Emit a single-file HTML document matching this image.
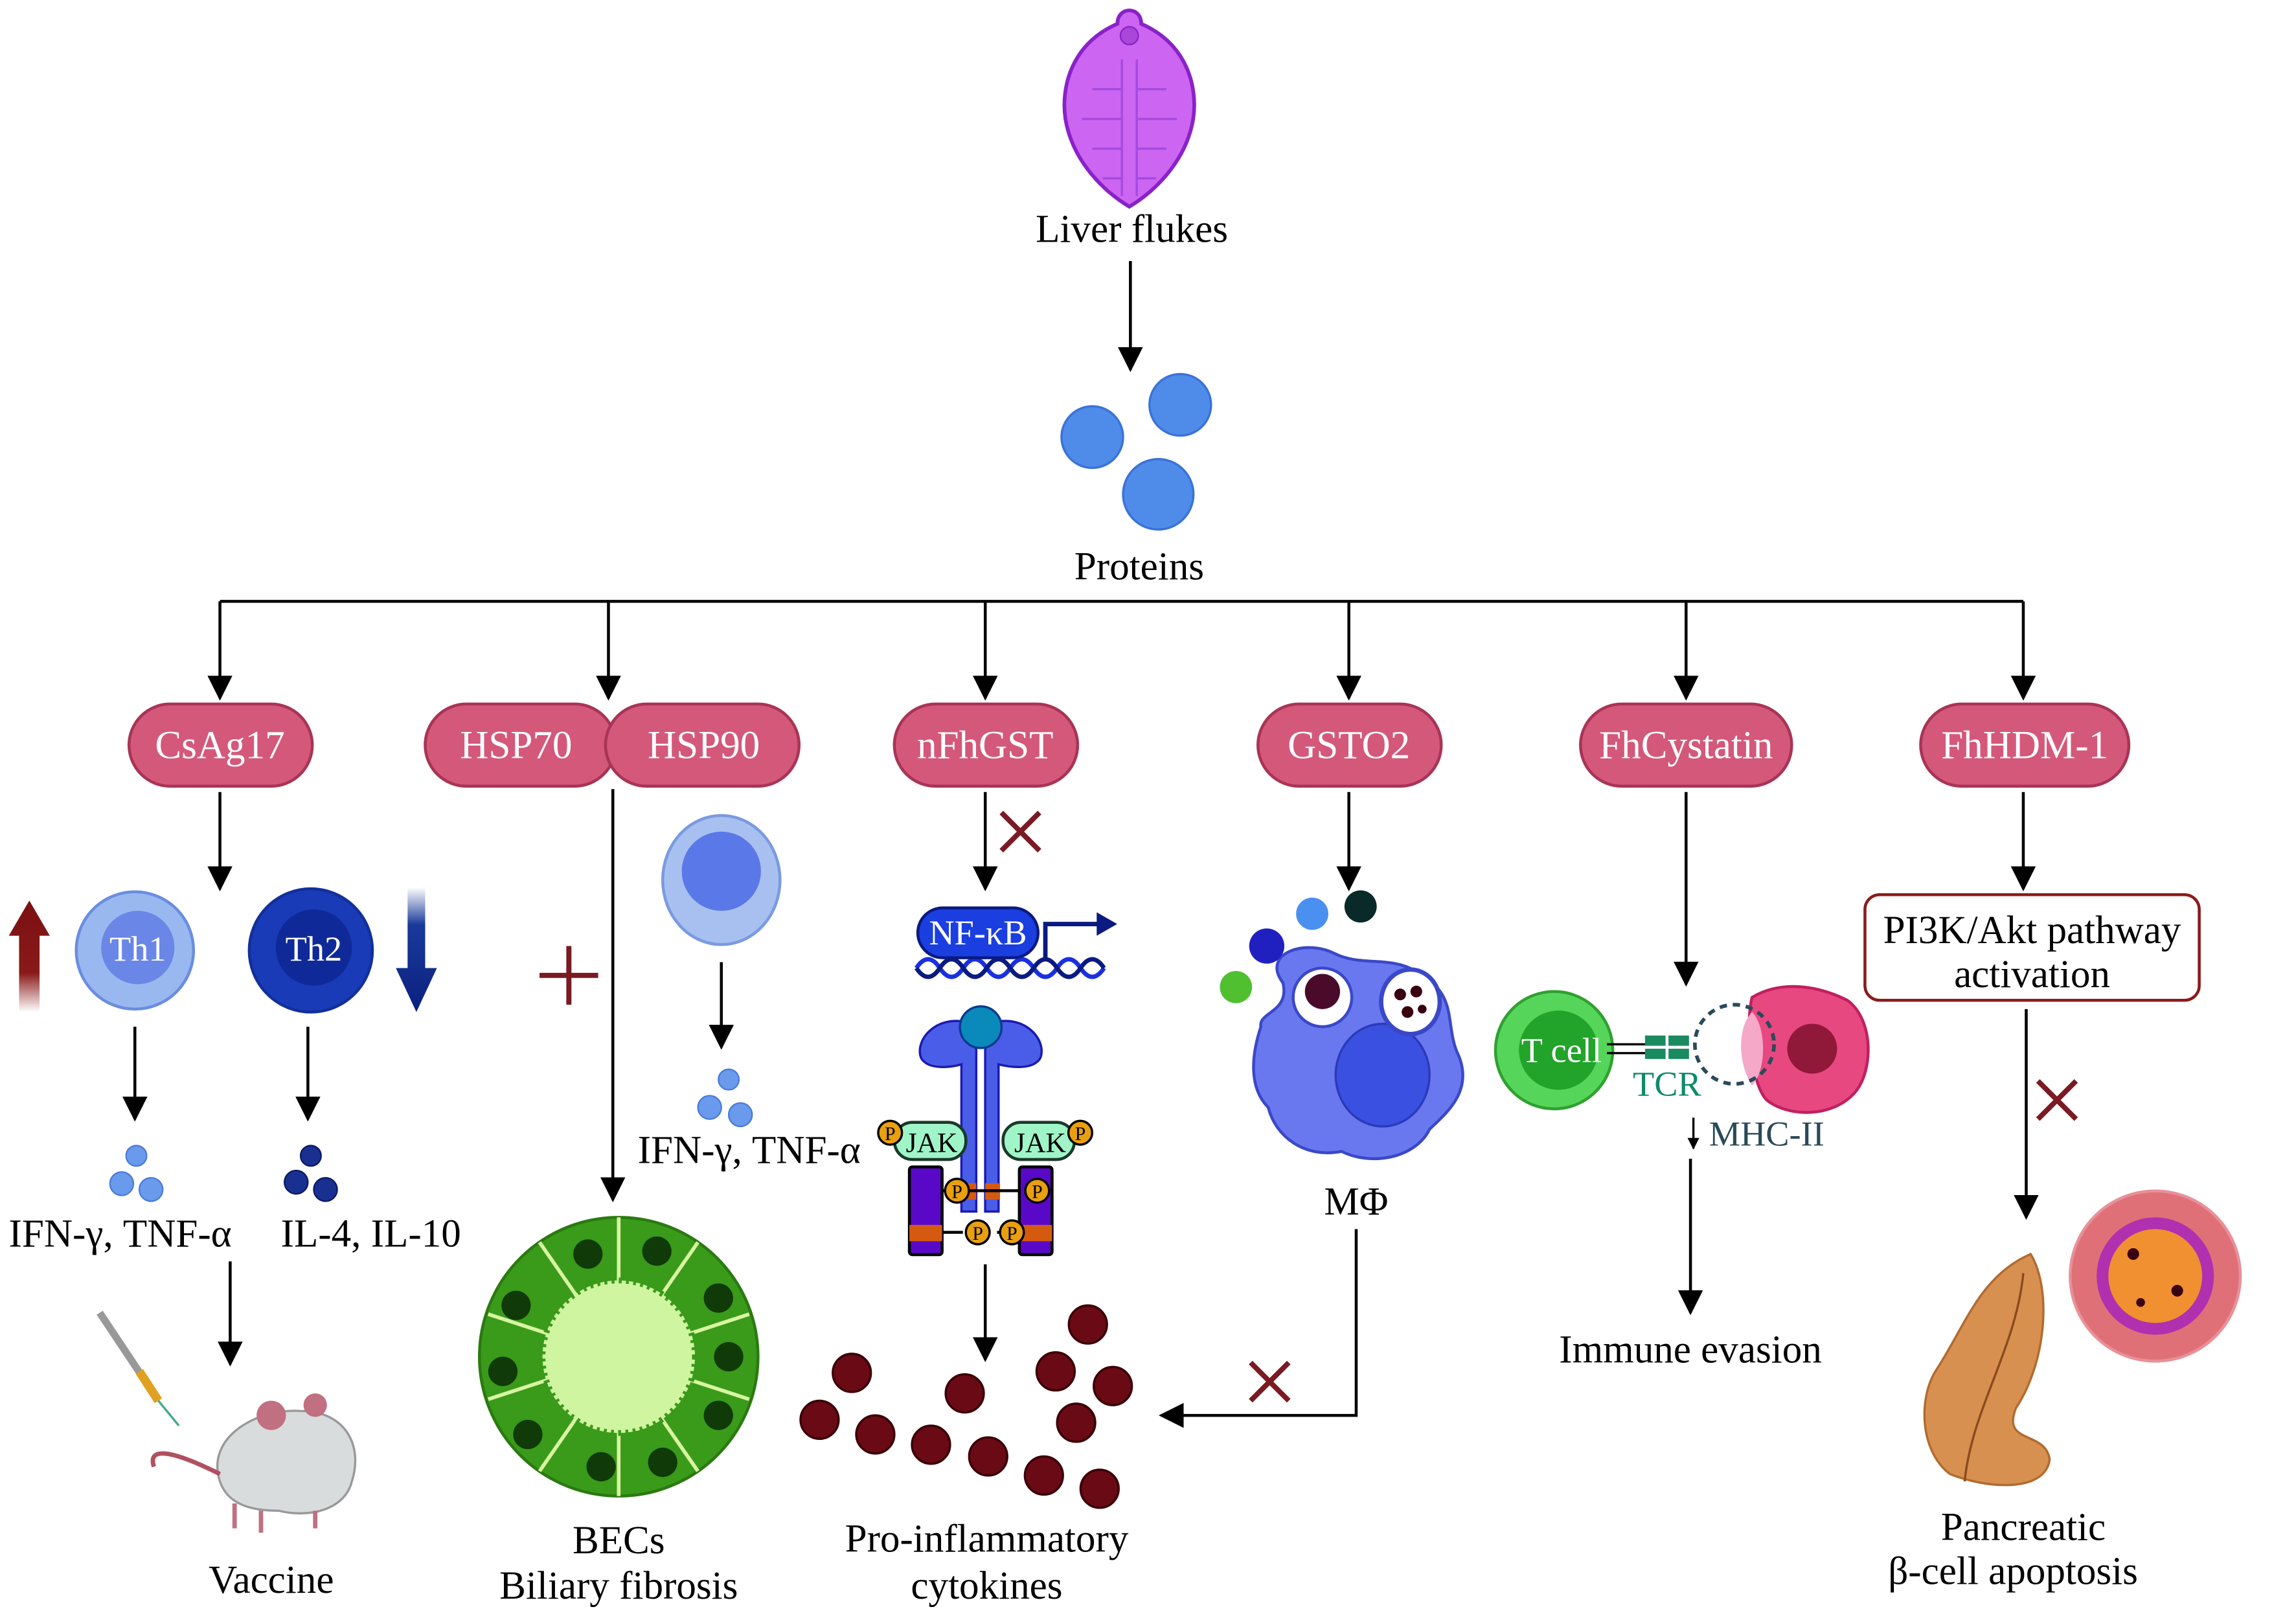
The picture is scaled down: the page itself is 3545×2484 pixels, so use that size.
<!DOCTYPE html>
<html><head><meta charset="utf-8"><style>html,body{margin:0;padding:0;background:#fff}svg{display:block}</style></head><body>
<svg width="3545" height="2484" viewBox="0 0 1566 1097" preserveAspectRatio="none" xmlns="http://www.w3.org/2000/svg" font-family="'Liberation Serif',serif" font-size="27">
<defs>
<marker id="a" viewBox="0 0 10 10" refX="9" refY="5" markerWidth="8" markerHeight="8" markerUnits="userSpaceOnUse" orient="auto"><path d="M0,0L10,5L0,10z" fill="#000"/></marker>
<marker id="b" viewBox="0 0 10 10" refX="9" refY="5" markerWidth="17" markerHeight="17" markerUnits="userSpaceOnUse" orient="auto"><path d="M0,0L10,5L0,10z" fill="#000"/></marker>
<linearGradient id="ru" x1="0" y1="1" x2="0" y2="0"><stop offset="0" stop-color="#fff"/><stop offset=".35" stop-color="#8a1a1a"/><stop offset="1" stop-color="#7a1010"/></linearGradient>
<linearGradient id="bd" x1="0" y1="0" x2="0" y2="1"><stop offset="0" stop-color="#fff"/><stop offset=".3" stop-color="#1a3a9a"/><stop offset="1" stop-color="#0a2080"/></linearGradient>
</defs>
<g transform="scale(1.0135)">
<path d="M752,16 C752,4 768,4 768,16 C800,30 806,60 803,80 C798,110 775,130 760,139 C745,130 722,110 717,80 C714,60 720,30 752,16z" fill="#cc66f2" stroke="#8a22c8" stroke-width="2.5"/>
<path d="M755,40 V132 M765,40 V132 M755,60 H735 M755,80 H728 M755,100 H735 M765,60 H785 M765,80 H792 M765,100 H785 M755,120 H742 M765,120 H778" stroke="#a64ae0" stroke-width="1.5" fill="none"/>
<circle cx="760" cy="24" r="6" fill="#a848d8" stroke="#8a22c8" stroke-width="1"/>
</g>
<g stroke="#000" stroke-width="2" fill="none">
<line x1="771" y1="178" x2="771" y2="252" marker-end="url(#b)"/>
<path d="M150,410H1380" />
<line x1="150" y1="410" x2="150" y2="476" marker-end="url(#b)"/>
<line x1="415" y1="410" x2="415" y2="476" marker-end="url(#b)"/>
<line x1="672" y1="410" x2="672" y2="476" marker-end="url(#b)"/>
<line x1="920" y1="410" x2="920" y2="476" marker-end="url(#b)"/>
<line x1="1150" y1="410" x2="1150" y2="476" marker-end="url(#b)"/>
<line x1="1380" y1="410" x2="1380" y2="476" marker-end="url(#b)"/>
<line x1="150" y1="540" x2="150" y2="606" marker-end="url(#b)"/>
<line x1="418" y1="538" x2="418" y2="818" marker-end="url(#b)"/>
<line x1="672" y1="540" x2="672" y2="606" marker-end="url(#b)"/>
<line x1="920" y1="540" x2="920" y2="606" marker-end="url(#b)"/>
<line x1="1150" y1="540" x2="1150" y2="671" marker-end="url(#b)"/>
<line x1="1380" y1="540" x2="1380" y2="606" marker-end="url(#b)"/>
<line x1="92" y1="700" x2="92" y2="763" marker-end="url(#b)"/>
<line x1="210" y1="700" x2="210" y2="763" marker-end="url(#b)"/>
<line x1="157" y1="860" x2="157" y2="930" marker-end="url(#b)"/>
<line x1="492" y1="656" x2="492" y2="714" marker-end="url(#b)"/>
<line x1="672" y1="862" x2="672" y2="927" marker-end="url(#b)"/>
<path d="M925,838V965H792" marker-end="url(#b)"/>
<line x1="1153" y1="790" x2="1153" y2="895" marker-end="url(#b)"/>
<line x1="1155" y1="762" x2="1155" y2="783" marker-end="url(#a)" stroke-width="1.5"/>
<line x1="1382" y1="688" x2="1382" y2="830" marker-end="url(#b)"/>
</g>
<g fill="#4f8be8" stroke="#3a72d8" stroke-width="1.5">
<circle cx="745" cy="298" r="21"/><circle cx="805" cy="276" r="21"/><circle cx="790" cy="337" r="24"/>
</g>
<g text-anchor="middle">
<text x="772" y="165">Liver flukes</text>
<text x="777" y="395">Proteins</text>
</g>
<g fill="#d4587a" stroke="#a83456" stroke-width="2">
<rect x="88" y="480" width="125" height="56" rx="28"/>
<rect x="290" y="480" width="130" height="56" rx="28"/>
<rect x="413" y="480" width="132" height="56" rx="28"/>
<rect x="610" y="480" width="125" height="56" rx="28"/>
<rect x="858" y="480" width="125" height="56" rx="28"/>
<rect x="1078" y="480" width="144" height="56" rx="28"/>
<rect x="1310" y="480" width="142" height="56" rx="28"/>
</g>
<g fill="#fff" text-anchor="middle">
<text x="150" y="517">CsAg17</text><text x="352" y="517">HSP70</text><text x="480" y="517">HSP90</text>
<text x="672" y="517">nFhGST</text><text x="920" y="517">GSTO2</text><text x="1150" y="517">FhCystatin</text><text x="1381" y="517">FhHDM-1</text>
</g>
<g stroke="#7a1a22" stroke-width="3.5">
<path d="M683,554L709,580M709,554L683,580"/>
<path d="M853,929L879,955M879,929L853,955"/>
<path d="M1390,737L1416,763M1416,737L1390,763"/>
<path d="M388,645V685M368,665H408"/>
</g>
<path d="M13,690V638H6L20,614L34,638H27V690z" fill="url(#ru)"/>
<path d="M278,605V660H270L284,690L298,660H290V605z" fill="url(#bd)"/>
<circle cx="92" cy="648" r="40" fill="#9ab8f0" stroke="#6a8de0" stroke-width="2"/>
<circle cx="94" cy="646" r="25" fill="#6a86e6"/>
<circle cx="212" cy="648" r="42" fill="#1a3bb8" stroke="#12309a" stroke-width="2"/>
<circle cx="214" cy="646" r="26" fill="#0f2a98"/>
<g fill="#fff" text-anchor="middle" font-size="24"><text x="94" y="655">Th1</text><text x="214" y="655">Th2</text></g>
<g fill="#6a9aec" stroke="#4a7ad8"><circle cx="93" cy="788" r="7"/><circle cx="83" cy="807" r="8"/><circle cx="103" cy="811" r="8"/></g>
<g fill="#1a3090" stroke="#0a1a60"><circle cx="212" cy="788" r="7"/><circle cx="202" cy="806" r="8"/><circle cx="222" cy="811" r="8"/></g>
<path d="M150,1010 C140,980 175,960 205,962 C235,962 248,985 240,1010 C235,1030 210,1035 190,1030 C170,1030 155,1025 150,1010z" fill="#d8dcdc" stroke="#999" stroke-width="1.5"/>
<circle cx="185" cy="965" r="10" fill="#c07080"/><circle cx="215" cy="958" r="8" fill="#c07080"/>
<path d="M150,1005 C120,990 100,985 105,1000" stroke="#b05060" stroke-width="3" fill="none"/>
<path d="M160,1025V1042M178,1030V1045M215,1030V1042" stroke="#c07080" stroke-width="3"/>
<path d="M68,895L108,955" stroke="#999" stroke-width="5"/><path d="M95,935L108,955" stroke="#e0a020" stroke-width="6"/><path d="M108,955L122,972" stroke="#4a8" stroke-width="1.5"/>
<ellipse cx="492" cy="600" rx="40" ry="44" fill="#a8c0f0" stroke="#7a9ae0" stroke-width="2"/>
<circle cx="492" cy="594" r="27" fill="#5a78e8"/>
<g fill="#6a9aec" stroke="#4a7ad8"><circle cx="497" cy="736" r="7"/><circle cx="484" cy="755" r="8"/><circle cx="505" cy="760" r="8"/></g>
<g transform="translate(0,-40)">
<circle cx="422" cy="965" r="95" fill="#3a9a1a" stroke="#2a7a10" stroke-width="2"/>
<g stroke="#d8f5a0" stroke-width="2.5">
<path d="M422,965L422,870M422,965L476,887M422,965L511,936M422,965L511,994M422,965L476,1043M422,965L422,1060M422,965L368,1043M422,965L333,994M422,965L333,936M422,965L368,887"/></g>
<g fill="#103a08"><circle cx="401" cy="895" r="10"/><circle cx="448" cy="893" r="10"/><circle cx="490" cy="925" r="10"/><circle cx="497" cy="965" r="10"/><circle cx="490" cy="1005" r="10"/><circle cx="452" cy="1037" r="10"/><circle cx="410" cy="1040" r="10"/><circle cx="360" cy="1018" r="10"/><circle cx="343" cy="975" r="10"/><circle cx="352" cy="930" r="10"/></g>
<circle cx="422" cy="965" r="52" fill="#d0f5a0" stroke="#3a9a1a" stroke-width="4" stroke-dasharray="2 3"/>
</g>
<g text-anchor="middle"><text x="82" y="850">IFN-γ, TNF-α</text><text x="253" y="850">IL-4, IL-10</text>
<text x="185" y="1086">Vaccine</text><text x="422" y="1059">BECs</text><text x="422" y="1090">Biliary fibrosis</text>
<text x="511" y="793">IFN-γ, TNF-α</text>
<text x="673" y="1058">Pro-inflammatory</text><text x="673" y="1090">cytokines</text>
<text x="925" y="828">MΦ</text><text x="1153" y="929">Immune evasion</text>
<text x="1380" y="1050">Pancreatic</text><text x="1373" y="1080">β-cell apoptosis</text></g>
<path d="M625,660 q8,-12 16,0 t16,0 t16,0 t16,0 t16,0 t16,0 t16,0 t16,0" fill="none" stroke="#1a30e0" stroke-width="3"/>
<path d="M625,660 q8,12 16,0 t16,0 t16,0 t16,0 t16,0 t16,0 t16,0 t16,0" fill="none" stroke="#0a1a80" stroke-width="3"/>
<rect x="626" y="619" width="82" height="34" rx="17" fill="#1a3ee0" stroke="#0a1a80" stroke-width="2"/>
<text x="667" y="644" fill="#fff" text-anchor="middle" font-size="24">NF-κB</text>
<path d="M713,655V630H750" stroke="#0a1a80" stroke-width="3" fill="none"/><path d="M748,622L762,630L748,638z" fill="#0a1a80"/>
<g transform="scale(1.0135)">
<path d="M652,688 C630,682 615,700 620,712 C625,720 640,718 647,716 V815 H657 V706 C655,700 650,695 652,688z" fill="#4a5de8" stroke="#1a1ab0" stroke-width="1.5"/>
<path d="M668,688 C690,682 705,700 700,712 C695,720 680,718 672,716 V815 H663 V706 C665,700 670,695 668,688z" fill="#4a5de8" stroke="#1a1ab0" stroke-width="1.5"/>
<circle cx="660" cy="691" r="14" fill="#0a8abb" stroke="#0a3a90" stroke-width="1.5"/>
<rect x="647" y="796" width="10" height="11" fill="#d45a10"/><rect x="663" y="796" width="10" height="11" fill="#d45a10"/>
<rect x="612" y="785" width="22" height="59" rx="2" fill="#5a08c8" stroke="#000" stroke-width="2"/>
<rect x="686" y="785" width="22" height="59" rx="2" fill="#5a08c8" stroke="#000" stroke-width="2"/>
<rect x="612" y="824" width="22" height="11" fill="#d45a10"/><rect x="686" y="824" width="22" height="11" fill="#d45a10"/>
<rect x="602" y="755" width="48" height="25" rx="12" fill="#a0f5c8" stroke="#1a3a2a" stroke-width="2"/>
<rect x="675" y="755" width="48" height="25" rx="12" fill="#a0f5c8" stroke="#1a3a2a" stroke-width="2"/>
<g font-size="19" text-anchor="middle"><text x="627" y="775">JAK</text><text x="700" y="775">JAK</text></g>
<path d="M633,801H660M687,801H660M648,829H634M671,829H686" stroke="#000" stroke-width="2"/>
<g fill="#e8a010" stroke="#000" stroke-width="1.5"><circle cx="599" cy="762" r="8"/><circle cx="727" cy="762" r="8"/><circle cx="644" cy="801" r="8"/><circle cx="698" cy="801" r="8"/><circle cx="658" cy="829" r="8"/><circle cx="681" cy="829" r="8"/></g>
<g font-size="13" text-anchor="middle"><text x="599" y="767">P</text><text x="727" y="767">P</text><text x="644" y="806">P</text><text x="698" y="806">P</text><text x="658" y="834">P</text><text x="681" y="834">P</text></g>
</g>
<g fill="#6a0a14" stroke="#3a0008" stroke-width="1.5">
<circle cx="742" cy="903" r="13"/><circle cx="581" cy="936" r="13"/><circle cx="658" cy="950" r="13"/><circle cx="720" cy="935" r="13"/><circle cx="759" cy="945" r="13"/>
<circle cx="559" cy="968" r="13"/><circle cx="597" cy="978" r="13"/><circle cx="635" cy="985" r="13"/><circle cx="734" cy="970" r="13"/><circle cx="674" cy="993" r="13"/><circle cx="712" cy="1006" r="13"/><circle cx="750" cy="1015" r="13"/></g>
<path d="M875,670 C860,650 890,640 910,650 C930,660 950,650 970,665 C995,680 985,700 995,720 C1005,745 985,760 975,770 C965,790 935,795 915,785 C890,790 870,775 865,755 C850,740 855,715 860,700 C858,690 880,690 875,670z" fill="#6a78f0" stroke="#3a48c8" stroke-width="2"/>
<ellipse cx="943" cy="733" rx="32" ry="35" fill="#3a50e0" stroke="#2a3ab8" stroke-width="1.5"/>
<circle cx="902" cy="680" r="20" fill="#fff" stroke="#3a48c8" stroke-width="2"/><circle cx="902" cy="676" r="12" fill="#4a0a2a"/>
<ellipse cx="962" cy="683" rx="20" ry="22" fill="#fff" stroke="#3a48c8" stroke-width="3"/>
<g fill="#3a0010"><circle cx="955" cy="678" r="4"/><circle cx="966" cy="676" r="4"/><circle cx="960" cy="690" r="4"/><circle cx="970" cy="688" r="3"/></g>
<circle cx="843" cy="673" r="11" fill="#50c030"/><circle cx="864" cy="645" r="12" fill="#2020c0"/><circle cx="895" cy="623" r="11" fill="#4a90f0"/><circle cx="928" cy="618" r="11" fill="#0a2a2a"/>
<path d="M1195,680 C1215,668 1240,672 1260,682 C1278,695 1278,730 1265,745 C1250,762 1220,762 1205,750 C1195,740 1190,700 1195,680z" fill="#e84880" stroke="#c02060" stroke-width="2"/>
<ellipse cx="1236" cy="715" rx="17" ry="17" fill="#901838"/>
<path d="M1195,690 C1185,700 1185,725 1195,740 C1205,730 1205,700 1195,690z" fill="#f5a8c8"/>
<circle cx="1183" cy="712" r="27" fill="none" stroke="#2a4a5a" stroke-width="2.5" stroke-dasharray="5 4"/>
<circle cx="1060" cy="716" r="40" fill="#55d65a" stroke="#30a030" stroke-width="2"/>
<circle cx="1063" cy="716" r="27" fill="#22a32a"/>
<text x="1065" y="724" fill="#fff" font-size="24" text-anchor="middle">T cell</text>
<path d="M1096,712H1122M1096,718H1122" stroke="#000" stroke-width="1.5"/>
<g fill="#1a8a60"><rect x="1122" y="706" width="14" height="7"/><rect x="1122" y="715" width="14" height="7"/><rect x="1138" y="706" width="14" height="7"/><rect x="1138" y="715" width="14" height="7"/></g>
<text x="1137" y="747" fill="#0d8a6a" font-size="24" text-anchor="middle">TCR</text>
<text x="1205" y="781" fill="#2a4a5a" font-size="24" text-anchor="middle">MHC-II</text>
<rect x="1272" y="610" width="228" height="72" rx="10" fill="#fff" stroke="#8b1a1a" stroke-width="2"/>
<g text-anchor="middle"><text x="1386" y="643">PI3K/Akt pathway</text><text x="1386" y="673">activation</text></g>
<path d="M1385,855 C1400,880 1395,930 1375,960 C1365,985 1395,975 1398,995 C1395,1018 1355,1015 1330,1005 C1310,990 1308,955 1320,935 C1340,905 1350,870 1385,855z" fill="#d89050" stroke="#b06a30" stroke-width="1.5"/>
<path d="M1380,868 C1375,920 1345,960 1340,1010" stroke="#8a4a20" stroke-width="1.5" fill="none"/>
<circle cx="1470" cy="870" r="58" fill="#e07078" stroke="#e89098" stroke-width="2"/>
<circle cx="1470" cy="870" r="40" fill="#b030b0"/>
<circle cx="1470" cy="870" r="32" fill="#f09030"/>
<g fill="#3a0010"><circle cx="1455" cy="855" r="4"/><circle cx="1485" cy="880" r="4"/><circle cx="1460" cy="888" r="3"/></g>
</svg>
</body></html>
